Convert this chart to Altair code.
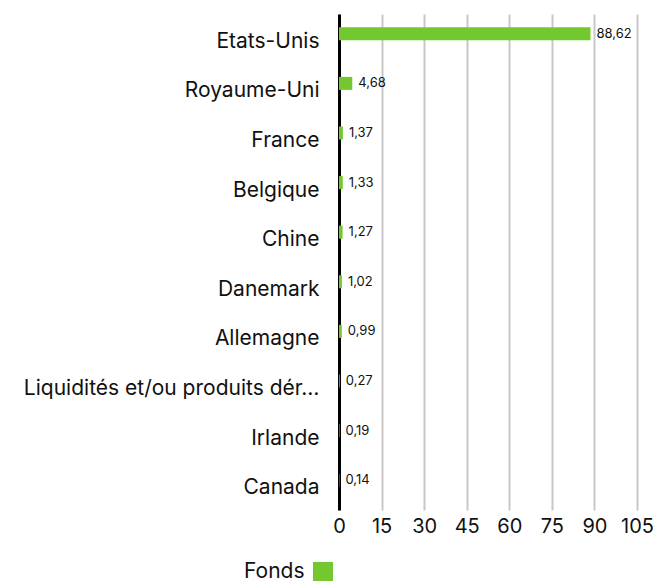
import altair as alt
import pandas as pd

countries = ["Etats-Unis", "Royaume-Uni", "France", "Belgique", "Chine", "Danemark",
             "Allemagne", "Liquidités et/ou produits dérivés", "Irlande", "Canada"]
values = [88.62, 4.68, 1.37, 1.33, 1.27, 1.02, 0.99, 0.27, 0.19, 0.14]
labels = ["88,62", "4,68", "1,37", "1,33", "1,27", "1,02", "0,99", "0,27", "0,19", "0,14"]
series = ["Fonds"] * len(countries)

df = pd.DataFrame({"pays": countries, "valeur": values, "label": labels, "serie": series})

FONT = "Inter"
GREEN = "#74c82f"

y_enc = alt.Y("pays:N", sort=countries, title=None,
              scale=alt.Scale(paddingInner=0.74, paddingOuter=0.37),
              axis=alt.Axis(labelFontSize=21, labelFont=FONT, labelColor="#111",
                            labelPadding=20, labelLimit=300, ticks=False, labelOffset=3,
                            domainColor="#000", domainWidth=3, grid=False))
x_enc = alt.X("valeur:Q", title=None,
              scale=alt.Scale(domain=[0, 105], nice=False),
              axis=alt.Axis(values=[0, 15, 30, 45, 60, 75, 90, 105], labelFontSize=20,
                            labelFont=FONT, labelColor="#111", ticks=False, domain=False,
                            gridColor="#c8c8c8", gridWidth=2, labelPadding=6,
                            labelFlush=False))

bars = alt.Chart(df).mark_bar(size=13, yOffset=-5).encode(
    y=y_enc, x=x_enc,
    color=alt.Color("serie:N", scale=alt.Scale(range=[GREEN]),
                    legend=alt.Legend(orient="none", legendX=-95, legendY=548,
                                      title="Fonds", titleOrient="left",
                                      titleFont=FONT, titleFontSize=21,
                                      titleFontWeight="normal", titleColor="#111",
                                      titlePadding=8,
                                      labelExpr="''", symbolType="square",
                                      symbolSize=400, symbolStrokeWidth=0,
                                      symbolOpacity=1))
)

text = alt.Chart(df).mark_text(align="left", dx=6, dy=-5, fontSize=13, font=FONT,
                               color="#111").encode(
    y=alt.Y("pays:N", sort=countries), x="valeur:Q", text="label:N"
)

chart = (bars + text).properties(
    width=298, height=496,
    autosize=alt.AutoSizeParams(type="none"),
    padding={"left": 339, "top": 14, "right": 21, "bottom": 71},
).configure_view(stroke=None).configure_axisY(zindex=1)

chart.save("out.html", embed_options={"renderer": "svg", "actions": False})
